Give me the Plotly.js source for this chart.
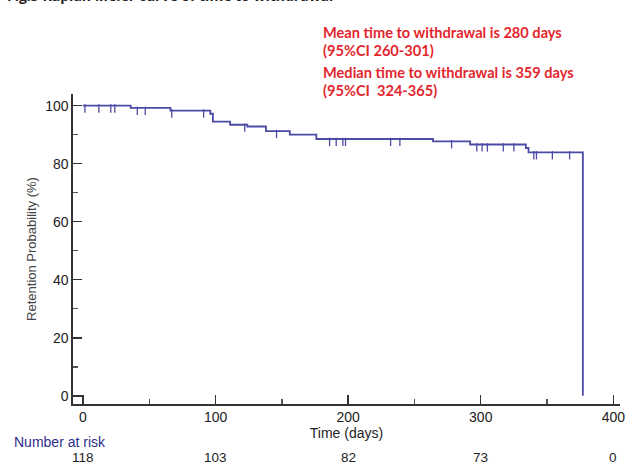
<!DOCTYPE html>
<html>
<head>
<meta charset="utf-8">
<script src="https://cdn.plot.ly/plotly-3.0.1.min.js"></script>
<style>html,body{margin:0;padding:0;background:#fff}#chart{width:627px;height:466px}</style>
</head>
<body>
<div id="chart"></div>
<script>
// Kaplan-Meier step data (time in days, retention %)
var stepTimes = [0, 36, 66, 96, 98, 111, 124, 138, 156, 176, 264, 292, 334, 336, 377];
var stepSurv  = [100, 99.2, 98.3, 97.2, 94.5, 93.4, 92.8, 91.2, 90.0, 88.5, 87.7, 86.6, 85.4, 83.9, 0];
// censored observation times
var censorTimes = [1.5, 12, 21, 24, 41, 47, 67, 91, 122, 146, 186, 191, 196, 198, 232, 239, 278, 297, 301, 305, 317, 325, 340, 342, 354, 367];
// number at risk
var riskTimes = [0, 100, 200, 300, 400];
var riskCounts = ["118", "103", "82", "73", "0"];
var xTicks = [0, 100, 200, 300, 400];
var yTicks = [0, 20, 40, 60, 80, 100];

function survAt(t) {
  var s = stepSurv[0];
  for (var i = 0; i < stepTimes.length; i++) { if (stepTimes[i] <= t) s = stepSurv[i]; }
  return s;
}
var lineCol = '#4b4ba6';
var kmX = stepTimes.slice(), kmY = stepSurv.slice();
var cx = censorTimes.slice();
var cy = censorTimes.map(function(t){ return survAt(t) - 1.0; });

var traces = [
  {x: kmX, y: kmY, type: 'scatter', mode: 'lines', line: {shape: 'hv', color: lineCol, width: 1.8}, hoverinfo: 'skip'},
  {x: cx, y: cy, type: 'scatter', mode: 'markers', marker: {symbol: 'line-ns', size: 6, line: {color: lineCol, width: 1.3}}, hoverinfo: 'skip'}
];

var ann = [];
var red = '#e3262d';
var redFont = {family: 'Lato, "Liberation Sans", sans-serif', size: 14.6, color: red};
var redLines = ["Mean time to withdrawal is 280 days", "(95%CI 260-301)", "Median time to withdrawal is 359 days", "(95%CI  324-365)"];
var redY = [32, 50, 73, 91];
for (var i = 0; i < redLines.length; i++) {
  ann.push({text: '<b>' + redLines[i] + '</b>', xref: 'paper', yref: 'paper', x: (321 - 73) / 547, y: 1 + (94 - redY[i]) / 310,
    xanchor: 'left', yanchor: 'middle', showarrow: false, font: redFont});
}
ann.push({text: '<b>Fig.3 Kaplan Meier curve of time to withdrawal</b>', xref: 'paper', yref: 'paper', x: (5 - 73) / 547, y: 1 + (94 - 7) / 310,
  xanchor: 'left', yanchor: 'bottom', showarrow: false, font: {family: '"Open Sans", sans-serif', size: 14, color: '#222'}});
ann.push({text: 'Number at risk', xref: 'paper', yref: 'paper', x: (12 - 73) / 547, y: -(442 - 404) / 310,
  xanchor: 'left', yanchor: 'middle', showarrow: false, font: {family: '"Liberation Sans", Arial, sans-serif', size: 14, color: '#2d2d8c'}});
for (var j = 0; j < riskTimes.length; j++) {
  ann.push({text: riskCounts[j], xref: 'x', yref: 'paper', x: riskTimes[j], y: -(457 - 404) / 310,
    xanchor: 'center', yanchor: 'middle', showarrow: false, font: {family: '"Liberation Sans", Arial, sans-serif', size: 13.5, color: '#222'}});
}

var layout = {
  width: 627, height: 466,
  margin: {l: 73, r: 7, t: 94, b: 62},
  paper_bgcolor: '#fff', plot_bgcolor: '#fff',
  showlegend: false,
  font: {family: '"Liberation Sans", Arial, sans-serif', color: '#222'},
  xaxis: {
    range: [-7.5, 405], tickvals: xTicks, ticks: 'inside', ticklen: 9, tickwidth: 1.4, tickcolor: '#333',
    showline: true, linecolor: '#333', linewidth: 1.6, showgrid: false, zeroline: false,
    tickfont: {size: 14, color: '#222'},
    minor: {dtick: 50, ticks: 'inside', ticklen: 5, tickcolor: '#555', showgrid: false},
    title: {text: 'Time (days)', font: {size: 14, color: '#222'}, standoff: 1}
  },
  yaxis: {
    range: [-2.8, 104], tickvals: yTicks, ticks: 'inside', ticklen: 9, tickwidth: 1.4, tickcolor: '#333',
    showline: true, linecolor: '#333', linewidth: 1.6, showgrid: false, zeroline: false,
    tickfont: {size: 14, color: '#222'},
    minor: {dtick: 10, ticks: 'inside', ticklen: 5, tickcolor: '#555', showgrid: false},
    title: {text: 'Retention Probability (%)', font: {size: 13, color: '#444'}, standoff: 5}
  },
  annotations: ann
};
Plotly.newPlot('chart', traces, layout, {displayModeBar: false, staticPlot: true});
</script>
</body>
</html>
